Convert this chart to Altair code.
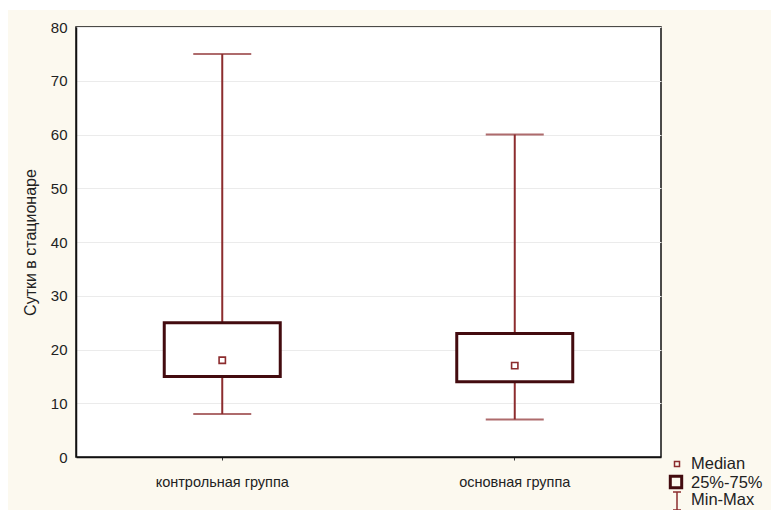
import altair as alt
import pandas as pd

# Length of hospital stay (days) by group: min, quartiles, median, max
groups = ["контрольная группа", "основная группа"]
mins = [8, 7]
q1 = [15, 14]
medians = [18, 17]
q3 = [25, 23]
maxs = [75, 60]

y_ticks = [0, 10, 20, 30, 40, 50, 60, 70, 80]

df = pd.DataFrame({
    "group": groups,
    "min": mins,
    "q1": q1,
    "median": medians,
    "q3": q3,
    "max": maxs,
})

W, H = 585, 430
CREAM = "#fcf9ef"
BOX = "#430b0f"
WHISK = "#8c2c2e"
FONT = "Liberation Sans"

x_enc = alt.X(
    "group:N",
    sort=groups,
    title=None,
    scale=alt.Scale(paddingInner=0, paddingOuter=0),
    axis=alt.Axis(
        labelAngle=0, labelFont=FONT, labelFontSize=14.5, labelColor="#222",
        labelPadding=15, tickSize=3, tickColor="#333", domainColor="#111",
        domainWidth=1.5, grid=False,
    ),
)
y_scale = alt.Scale(domain=[0, 80], nice=False, zero=True)
y_axis = alt.Axis(
    values=y_ticks, title="Сутки в стационаре", titleFont=FONT,
    titleFontSize=16, titleFontWeight="normal", titleColor="#222",
    titlePadding=12, labelFont=FONT, labelFontSize=15,
    labelColor="#222", labelPadding=9, tickSize=0, domainColor="#111",
    domainWidth=1.5, gridColor="#ebebeb", gridWidth=1,
)

base = alt.Chart(df)

# thin white border around the cream page
edge_left = alt.Chart(alt.Data(values=[{}])).mark_rect(color="white").encode(
    x=alt.value(-76), x2=alt.value(-68), y=alt.value(-27), y2=alt.value(483)
)
edge_top = alt.Chart(alt.Data(values=[{}])).mark_rect(color="white").encode(
    x=alt.value(-76), x2=alt.value(695), y=alt.value(-27), y2=alt.value(-17)
)

whisk_low = base.mark_rule(color=WHISK, strokeWidth=2).encode(
    x=x_enc, y=alt.Y("min:Q", scale=y_scale, axis=y_axis), y2="q1:Q"
)
whisk_high = base.mark_rule(color=WHISK, strokeWidth=2).encode(
    x=x_enc, y=alt.Y("q3:Q", scale=y_scale, axis=y_axis), y2="max:Q"
)
cap_min = base.mark_tick(color=WHISK, size=58, thickness=2).encode(
    x=x_enc, y=alt.Y("min:Q", scale=y_scale, axis=y_axis)
)
cap_max = base.mark_tick(color=WHISK, size=58, thickness=2).encode(
    x=x_enc, y=alt.Y("max:Q", scale=y_scale, axis=y_axis)
)
box = base.mark_bar(size=116, fill="white", stroke=BOX, strokeWidth=3).encode(
    x=x_enc, y=alt.Y("q1:Q", scale=y_scale, axis=y_axis), y2="q3:Q"
)
med = base.mark_point(shape="square", size=40, filled=False, fill="white",
                      fillOpacity=1, color=WHISK, strokeWidth=1.6, opacity=1).encode(
    x=x_enc, y=alt.Y("median:Q", scale=y_scale, axis=y_axis)
)

# key in the lower right corner
one = alt.Data(values=[{}])
key_med = alt.Chart(one).mark_point(shape="square", size=25, filled=False,
                                    color=WHISK, strokeWidth=1.5, opacity=1).encode(
    x=alt.value(601), y=alt.value(437)
)
key_box = alt.Chart(one).mark_point(shape="square", size=130, filled=False,
                                    color=BOX, strokeWidth=3, opacity=1).encode(
    x=alt.value(600), y=alt.value(455)
)
key_v = alt.Chart(one).mark_rule(color=WHISK, strokeWidth=1.5).encode(
    x=alt.value(601), y=alt.value(465), y2=alt.value(484)
)
key_c1 = alt.Chart(one).mark_rule(color=WHISK, strokeWidth=1.5).encode(
    x=alt.value(597), x2=alt.value(605), y=alt.value(465)
)
key_c2 = alt.Chart(one).mark_rule(color=WHISK, strokeWidth=1.5).encode(
    x=alt.value(597), x2=alt.value(605), y=alt.value(483)
)
key_texts = []
for label, yy in [("Median", 437), ("25%-75%", 456), ("Min-Max", 473)]:
    key_texts.append(
        alt.Chart(one).mark_text(align="left", baseline="middle", font=FONT,
                                 fontSize=16.5, color="#222").encode(
            x=alt.value(615), y=alt.value(yy), text=alt.value(label)
        )
    )

chart = alt.layer(
    edge_left, edge_top, whisk_low, whisk_high, cap_min, cap_max, box, med,
    key_med, key_box, key_v, key_c1, key_c2, *key_texts,
).properties(
    width=W, height=H,
    background=CREAM,
    padding={"left": 76, "top": 27, "right": 110, "bottom": 53},
    autosize=alt.AutoSizeParams(type="none"),
).configure_view(
    fill="white", stroke="#111", strokeWidth=1.5
)

chart.save("out.html", embed_options={"renderer": "svg", "actions": False})
